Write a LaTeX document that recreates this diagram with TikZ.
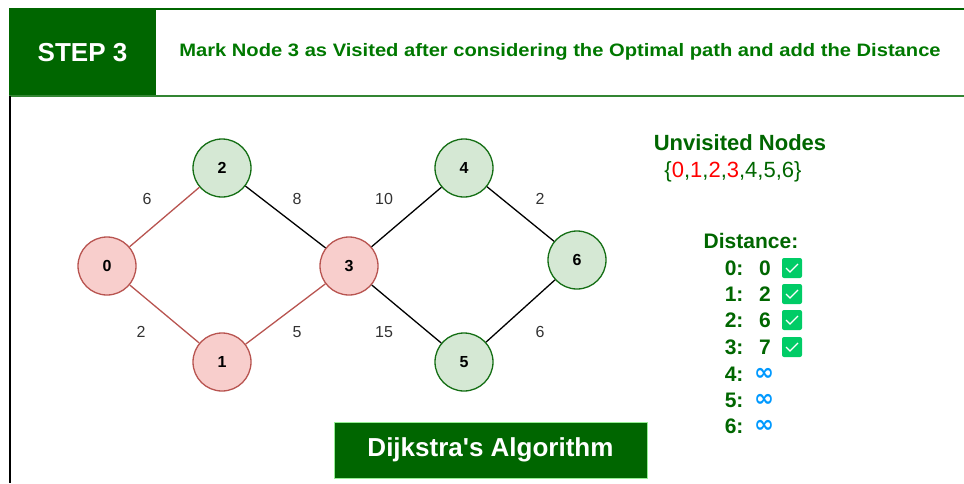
\documentclass[tikz,border=0pt]{standalone}
\usepackage{fontspec}
\setmainfont{Liberation Sans}[Ligatures=TeXOff]
\newfontfamily\symfont{DejaVu Sans}
\definecolor{hdrgreen}{RGB}{0,102,0}
\definecolor{txtgreen}{RGB}{0,120,0}
\definecolor{redfill}{RGB}{248,206,204}
\definecolor{redline}{RGB}{184,84,80}
\definecolor{greenfill}{RGB}{213,232,212}
\definecolor{greenline}{RGB}{20,110,20}
\definecolor{boxgreen}{RGB}{0,204,102}
\definecolor{infblue}{RGB}{0,153,255}
\definecolor{lblgray}{RGB}{51,51,51}
\newcommand{\fsz}[1]{\fontsize{#1}{#1}\selectfont}
\begin{document}
\begin{tikzpicture}[x=1pt,y=-1pt]
\tikzstyle{vnode}=[circle,minimum size=58pt,inner sep=0pt,line width=1.3pt,font=\fsz{16}\bfseries]
\tikzstyle{seen}=[vnode,draw=redline,fill=redfill]
\tikzstyle{unseen}=[vnode,draw=greenline,fill=greenfill]
\tikzstyle{wlbl}=[text=lblgray,font=\fsz{16}]
\tikzstyle{dist}=[text=hdrgreen,font=\fsz{21}\bfseries]
\tikzstyle{tick}=[fill=boxgreen,rounded corners=2pt,minimum size=20pt,inner sep=0pt]
\tikzstyle{inf}=[text=infblue,font=\symfont\bfseries\fsz{24}]
\useasboundingbox (0,0) rectangle (964,483);
% header
\node[fill=hdrgreen,minimum width=147pt,minimum height=87pt,text=white,font=\fsz{26}\bfseries](step) at (82.5,52.5) {STEP 3};
\draw[hdrgreen,line width=2pt] (9,9) -- (964,9);
\draw[hdrgreen!80,line width=2pt] (9,96) -- (964,96);
\draw[black,line width=1.5pt] (10,96) -- (10,483);
\node[text=txtgreen,font=\fsz{18}\bfseries](title) at (560,52) {\scalebox{1.12}[1]{Mark Node 3 as Visited after considering the Optimal path and add the Distance}};
% graph
\node[seen](n0) at (107,266) {0};
\node[seen](n1) at (222,362) {1};
\node[unseen](n2) at (222,168) {2};
\node[seen](n3) at (349,266) {3};
\node[unseen](n4) at (464,168) {4};
\node[unseen](n5) at (464,362) {5};
\node[unseen](n6) at (577,260) {6};
\draw[redline,line width=1.3pt] (n0) -- (n2);
\draw[redline,line width=1.3pt] (n0) -- (n1);
\draw[redline,line width=1.3pt] (n1) -- (n3);
\draw[black,line width=1.3pt] (n2) -- (n3);
\draw[black,line width=1.3pt] (n3) -- (n4);
\draw[black,line width=1.3pt] (n3) -- (n5);
\draw[black,line width=1.3pt] (n4) -- (n6);
\draw[black,line width=1.3pt] (n5) -- (n6);
\node[wlbl](w02) at (147,199) {6};
\node[wlbl](w23) at (297,199) {8};
\node[wlbl](w01) at (141,332) {2};
\node[wlbl](w13) at (297,332) {5};
\node[wlbl](w34) at (384,199) {10};
\node[wlbl](w35) at (384,332) {15};
\node[wlbl](w46) at (540,199) {2};
\node[wlbl](w56) at (540,332) {6};
% right panel
\node[text=hdrgreen,font=\fsz{22}\bfseries](unv) at (740,143) {Unvisited Nodes};
\node[text=hdrgreen,font=\fsz{22}](set) at (733,172) {\{\textcolor{red}{0},\textcolor{red}{1},\textcolor{red}{2},\textcolor{red}{3},4,5,6\}};
\node[dist](dhead) at (751,241) {Distance:};
\node[dist,anchor=east](d0) at (747,268) {0:};
\node[dist,anchor=east](d1) at (747,294) {1:};
\node[dist,anchor=east](d2) at (747,320) {2:};
\node[dist,anchor=east](d3) at (747,347) {3:};
\node[dist,anchor=east](d4) at (747,374) {4:};
\node[dist,anchor=east](d5) at (747,400) {5:};
\node[dist,anchor=east](d6) at (747,426) {6:};
\node[dist](v0) at (765,268) {0};
\node[dist](v1) at (765,294) {2};
\node[dist](v2) at (765,320) {6};
\node[dist](v3) at (765,347) {7};
\node[inf](v4) at (764,374) {∞};
\node[inf](v5) at (764,400) {∞};
\node[inf](v6) at (764,426) {∞};
\node[tick](c0) at (792,268) {};
\node[tick](c1) at (792,294) {};
\node[tick](c2) at (792,320) {};
\node[tick](c3) at (792,347) {};
\draw[white,line width=1.2pt] ([shift={(-6,0)}]c0.center) -- ([shift={(-2,4)}]c0.center) -- ([shift={(6,-4)}]c0.center);
\draw[white,line width=1.2pt] ([shift={(-6,0)}]c1.center) -- ([shift={(-2,4)}]c1.center) -- ([shift={(6,-4)}]c1.center);
\draw[white,line width=1.2pt] ([shift={(-6,0)}]c2.center) -- ([shift={(-2,4)}]c2.center) -- ([shift={(6,-4)}]c2.center);
\draw[white,line width=1.2pt] ([shift={(-6,0)}]c3.center) -- ([shift={(-2,4)}]c3.center) -- ([shift={(6,-4)}]c3.center);
% footer
\node[fill=hdrgreen,draw=greenfill!70!green,minimum width=313pt,minimum height=56pt,text=white,font=\fsz{26}\bfseries](algo) at (490.5,450) {Dijkstra's Algorithm};
\end{tikzpicture}
\end{document}
